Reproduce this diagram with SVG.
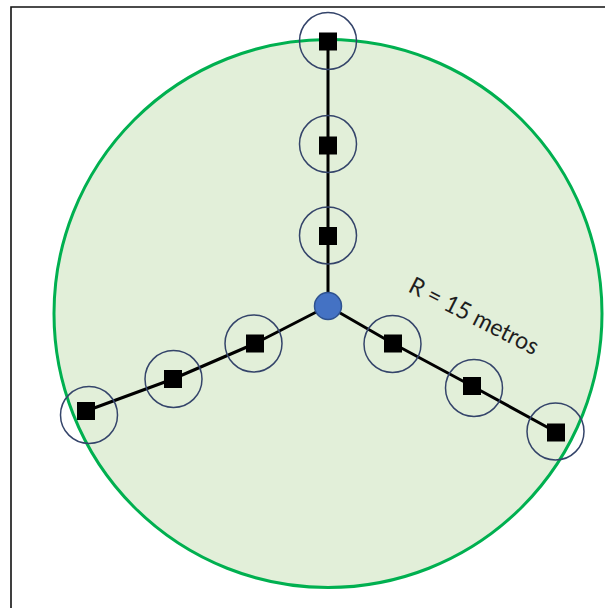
<svg xmlns="http://www.w3.org/2000/svg" width="605" height="608" viewBox="0 0 605 608">
<style>
.ring{fill:none;stroke:#34446A;stroke-width:1.5}
.sq{fill:#000}
.wire{fill:none;stroke:#000;stroke-width:3;stroke-linejoin:round}
.lbl{font-family:Lato,"Liberation Sans",sans-serif;font-size:24px;fill:#1e1e1e}
</style>
<rect width="605" height="608" fill="#fff"/>
<path d="M11,608 V7 H605" fill="none" stroke="#111" stroke-width="1.6"/>
<g id="area">
<circle cx="328" cy="313.5" r="274" fill="#E2EFD9" stroke="#00B050" stroke-width="3"/>
</g>
<g id="connectors">
<polyline class="wire" points="328,306 328,236 328,145 328,41"/>
<polyline class="wire" points="328,306 393,343.5 472,386 556,432"/>
<polyline class="wire" points="328,306 255,343.5 173,379 86,411"/>
</g>
<g id="n-top1"><circle class="ring" cx="328" cy="41" r="28.5"/><rect class="sq" x="319" y="32.5" width="18" height="18"/></g>
<g id="n-top2"><circle class="ring" cx="328" cy="144" r="28.5"/><rect class="sq" x="319" y="136.5" width="18" height="18"/></g>
<g id="n-top3"><circle class="ring" cx="328" cy="235.5" r="28.5"/><rect class="sq" x="319" y="227" width="18" height="18"/></g>
<g id="n-r1"><circle class="ring" cx="392.5" cy="344" r="28.5"/><rect class="sq" x="384" y="334.5" width="18" height="18"/></g>
<g id="n-r2"><circle class="ring" cx="474" cy="388" r="28.5"/><rect class="sq" x="463" y="377" width="18" height="18"/></g>
<g id="n-r3"><circle class="ring" cx="555.5" cy="431.5" r="28.5"/><rect class="sq" x="547" y="423.5" width="18" height="18"/></g>
<g id="n-l1"><circle class="ring" cx="253.5" cy="343.5" r="28.5"/><rect class="sq" x="246" y="334.5" width="18" height="18"/></g>
<g id="n-l2"><circle class="ring" cx="173.5" cy="379" r="28.5"/><rect class="sq" x="164" y="370" width="18" height="18"/></g>
<g id="n-l3"><circle class="ring" cx="89" cy="415" r="28.5"/><rect class="sq" x="77" y="402" width="18" height="18"/></g>
<g id="center"><circle cx="328" cy="306" r="13.5" fill="#4472C4" stroke="#2F528F" stroke-width="1.5"/></g>
<text class="lbl" x="407" y="291" textLength="142" lengthAdjust="spacingAndGlyphs" transform="rotate(27 407 291)">R = 15 metros</text>
</svg>
